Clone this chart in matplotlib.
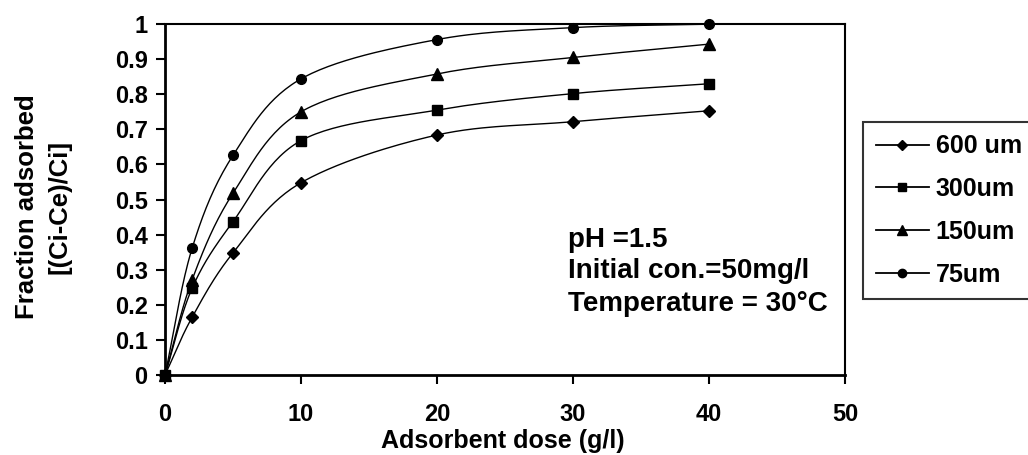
import numpy as np
import matplotlib
matplotlib.use("Agg")
import matplotlib.pyplot as plt

plt.rcParams['font.family'] = ['Liberation Sans', 'DejaVu Sans']
plt.rcParams['font.weight'] = 'bold'

# data
dose = [0, 2, 5, 10, 20, 30, 40]
frac_600 = [0, 0.165, 0.348, 0.548, 0.684, 0.722, 0.753]
frac_300 = [0, 0.248, 0.437, 0.668, 0.755, 0.802, 0.830]
frac_150 = [0, 0.272, 0.518, 0.750, 0.858, 0.905, 0.943]
frac_75 = [0, 0.362, 0.626, 0.844, 0.956, 0.990, 1.0]
labels = ["600 um", "300um", "150um", "75um"]
markers = ["D", "s", "^", "o"]
msizes = [6.5, 7, 8, 7]


# excel-like smooth line through the points (catmull-rom)
def smooth(x, y, n=30):
    x = np.asarray(x, float)
    y = np.asarray(y, float)
    px = np.concatenate([[2 * x[0] - x[1]], x, [2 * x[-1] - x[-2]]])
    py = np.concatenate([[2 * y[0] - y[1]], y, [2 * y[-1] - y[-2]]])
    xs, ys = [], []
    for i in range(1, len(px) - 2):
        t = np.linspace(0, 1, n, endpoint=False)
        for p, out in ((px, xs), (py, ys)):
            p0, p1, p2, p3 = p[i - 1], p[i], p[i + 1], p[i + 2]
            out.extend(0.5 * ((2 * p1) + (-p0 + p2) * t
                              + (2 * p0 - 5 * p1 + 4 * p2 - p3) * t ** 2
                              + (-p0 + 3 * p1 - 3 * p2 + p3) * t ** 3))
    xs.append(x[-1])
    ys.append(y[-1])
    return np.array(xs), np.array(ys)


fig = plt.figure(figsize=(10.28, 4.55), dpi=100)
ax = fig.add_axes([0.1605, 0.1758, 0.6615, 0.7712])

for ys, lab, m, ms in zip([frac_600, frac_300, frac_150, frac_75], labels, markers, msizes):
    sx, sy = smooth(dose, ys)
    ax.plot(sx, sy, color='black', lw=1.0, clip_on=False)
    ax.plot(dose, ys, linestyle='none', marker=m, ms=ms, color='black', clip_on=False)
    ax.plot([], [], color='black', lw=1.3, marker=m, ms=ms - 1, label=lab)

ax.set_xlim(0, 50)
ax.set_ylim(0, 1)
ax.set_xticks([0, 10, 20, 30, 40, 50])
ax.set_yticks(np.arange(0, 1.01, 0.1))
ax.set_yticklabels(['0', '0.1', '0.2', '0.3', '0.4', '0.5', '0.6', '0.7', '0.8', '0.9', '1'])
ax.tick_params(axis='both', direction='out', length=6.5, width=1.5, labelsize=17)
ax.tick_params(axis='x', pad=14)
ax.tick_params(axis='y', pad=6)
for s in ['left', 'bottom']:
    ax.spines[s].set_linewidth(2.0)
for s in ['top', 'right']:
    ax.spines[s].set_linewidth(1.5)

fig.text(503 / 1028, 1 - 441 / 455, "Adsorbent dose (g/l)", fontsize=18,
         fontweight='bold', ha='center', va='center')
fig.text(43 / 1028, 1 - 207 / 455, "Fraction adsorbed\n[(Ci-Ce)/Ci]", fontsize=18.5,
         fontweight='bold', ha='center', va='center', rotation=90, linespacing=1.45,
         multialignment='center')

ax.text(29.6, 0.385, "pH =1.5", fontsize=20, fontweight='bold', va='center')
ax.text(29.6, 0.296, "Initial con.=50mg/l", fontsize=20, fontweight='bold', va='center')
ax.text(29.6, 0.203, "Temperature = 30\u00b0C", fontsize=20, fontweight='bold', va='center')

leg = fig.legend(loc='upper left', bbox_to_anchor=(0.8395, 0.732), fontsize=18,
                 frameon=True, fancybox=False, edgecolor='black', handlelength=2.15,
                 handletextpad=0.25, labelspacing=0.75, borderpad=0.5, borderaxespad=0)
leg.get_frame().set_linewidth(1.5)
for t in leg.get_texts():
    t.set_fontweight('bold')

fig.savefig("out.png", dpi=100)
